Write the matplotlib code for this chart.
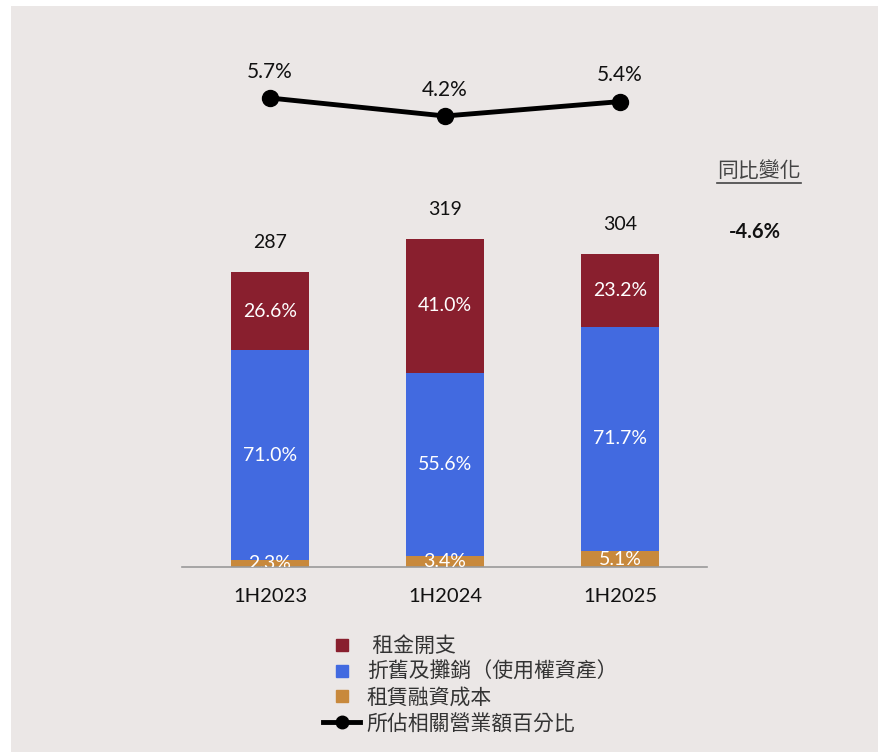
import matplotlib.pyplot as plt
from matplotlib.patches import Rectangle
from matplotlib.lines import Line2D

# data
periods = ["1H2023", "1H2024", "1H2025"]
totals = [287, 319, 304]
finance_pct = [2.3, 3.4, 5.1]
depreciation_pct = [71.0, 55.6, 71.7]
rent_pct = [26.6, 41.0, 23.2]
revenue_share = [5.7, 4.2, 5.4]
yoy_change = -4.6

series_names = [" 租金開支", "折舊及攤銷（使用權資產）", "租賃融資成本", "所佔相關營業額百分比"]
c_rent = "#891F2E"
c_dep = "#426AE0"
c_fin = "#C8893C"

plt.rcParams['font.family'] = ['Lato', 'Noto Sans CJK TC', 'DejaVu Sans']

W, H = 879, 752
fig = plt.figure(figsize=(W / 100, H / 100), dpi=100)
fig.patch.set_facecolor("white")
fig.add_artist(Rectangle((11 / W, 0), 1 - 11 / W, (H - 6) / H,
                         transform=fig.transFigure, facecolor="#EBE7E6",
                         edgecolor="none", zorder=0))

# stacked bars
ax = fig.add_axes([182.5 / W, (H - 567) / H, 525 / W, 350 / H])
ax.set_facecolor("none")
x = list(range(len(periods)))
width = 0.45
fin = [t * p / 100 for t, p in zip(totals, finance_pct)]
dep = [t * p / 100 for t, p in zip(totals, depreciation_pct)]
rent = [t * p / 100 for t, p in zip(totals, rent_pct)]
b1 = ax.bar(x, fin, width, color=c_fin)
b2 = ax.bar(x, dep, width, bottom=fin, color=c_dep)
b3 = ax.bar(x, rent, width, bottom=[a + b for a, b in zip(fin, dep)], color=c_rent)

for bars, pcts in [(b1, finance_pct), (b2, depreciation_pct), (b3, rent_pct)]:
    for rect, p in zip(bars, pcts):
        ax.text(rect.get_x() + rect.get_width() / 2, rect.get_y() + rect.get_height() / 2,
                f"{p:.1f}%", ha="center", va="center", color="white", fontsize=14,
                clip_on=True)

for xi, t in zip(x, totals):
    ax.annotate(f"{t}", (xi, t), xytext=(0, 21), textcoords="offset points",
                ha="center", va="center", fontsize=14, color="#111")

ax.set_xlim(-0.5, 2.5)
ax.set_ylim(0, 340)
for s in ["top", "right", "left"]:
    ax.spines[s].set_visible(False)
ax.spines["bottom"].set_color("#9A9A9A")
ax.spines["bottom"].set_linewidth(1.2)
ax.set_yticks([])
ax.set_xticks(x)
ax.set_xticklabels(periods, fontsize=14.5, color="#111")
ax.tick_params(axis="x", length=0, pad=15)

# line of revenue share
lx = fig.add_axes([182.5 / W, (H - 124.4) / H, 525 / W, 36 / H])
lx.set_facecolor("none")
lx.axis("off")
lx.set_xlim(-0.5, 2.5)
lx.set_ylim(3.5, 6.5)
lx.plot(x, revenue_share, color="black", lw=3.5, marker="o", markersize=11.5,
        clip_on=False)
for xi, v in zip(x, revenue_share):
    lx.annotate(f"{v}%", (xi, v), xytext=(0, 19), textcoords="offset points",
                ha="center", va="center", fontsize=15, color="#111")

# yoy change
fig.text(759 / W, 1 - 171 / H, "同比變化", ha="center", va="center",
         fontsize=15, color="#444")
fig.add_artist(Line2D([717 / W, 801 / W], [1 - 183 / H, 1 - 183 / H],
                      transform=fig.transFigure, color="#444", lw=1.2))
fig.text(755 / W, 1 - 232 / H, f"{yoy_change}%", ha="center", va="center",
         fontsize=14.5, color="#111", fontweight="bold")

# legend
handles = [
    Line2D([], [], ls="none", marker="s", markersize=8, color=c_rent),
    Line2D([], [], ls="none", marker="s", markersize=8, color=c_dep),
    Line2D([], [], ls="none", marker="s", markersize=8, color=c_fin),
    Line2D([], [], color="black", lw=3.5, marker="o", markersize=9),
]
leg = fig.legend(handles, series_names, loc="upper left",
                 bbox_to_anchor=(323 / W, 1 - 636 / H), frameon=False,
                 borderpad=0, fontsize=15, handlelength=1.8, handletextpad=0.3,
                 labelspacing=0.28, borderaxespad=0)
for t in leg.get_texts():
    t.set_color("#333")

fig.savefig("out.png", dpi=100)
